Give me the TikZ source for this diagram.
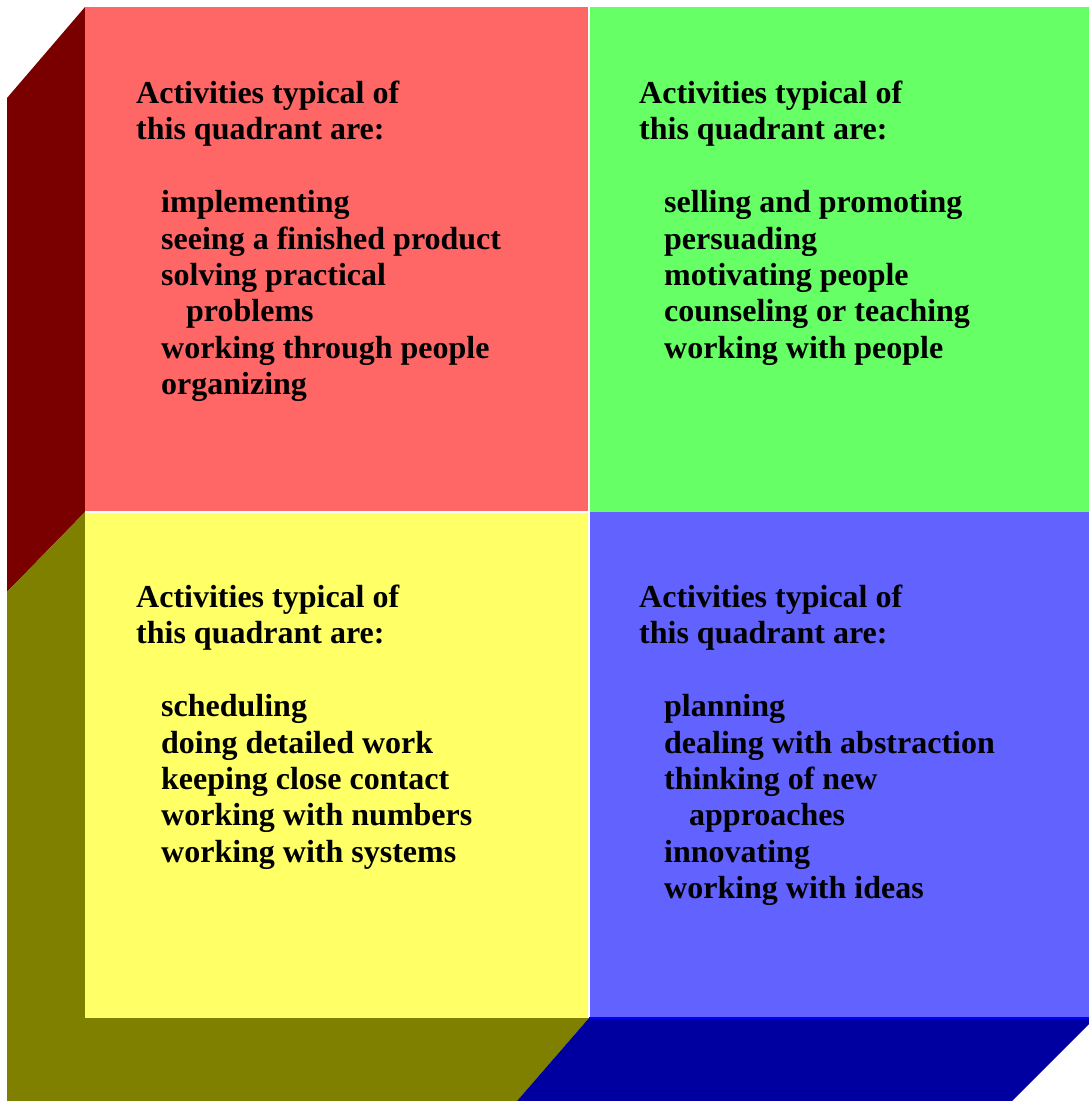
\documentclass[tikz,border=0pt]{standalone}
\usepackage{fontspec}
\setmainfont{Liberation Serif}
\definecolor{qred}{HTML}{FF6666}
\definecolor{qgreen}{HTML}{66FF66}
\definecolor{qyellow}{HTML}{FFFF66}
\definecolor{qblue}{HTML}{6262FF}
\definecolor{sred}{HTML}{7A0000}
\definecolor{solive}{HTML}{808000}
\definecolor{sblue}{HTML}{0000A0}
\tikzset{
  txt/.style={anchor=base west, inner sep=0pt, font=\fontsize{32}{36}\selectfont\bfseries, text=black},
}
\begin{document}
\begin{tikzpicture}[x=1pt,y=-1pt]
\useasboundingbox (0,0) rectangle (1089,1101);
% side faces
\fill[sred] (7,98) -- (85,7) -- (85,512) -- (7,592) -- cycle;
\fill[solive] (7,592) -- (85,512) -- (85,1018) -- (589,1018) -- (517,1101) -- (7,1101) -- cycle;
\fill[sblue] (589,1018) -- (1089,1018) -- (1089,1024) -- (1012,1101) -- (517,1101) -- cycle;
% front quadrants
\fill[qred] (85,7) rectangle (589,512);
\fill[qgreen] (589,7) rectangle (1089,512);
\fill[qyellow] (85,512) rectangle (589,1018);
\fill[qblue] (589,512) rectangle (1089,1018);
\draw[white, line width=1.2pt] (589,7) -- (589,1018);
\draw[white, line width=1.2pt] (85,512) -- (589,512);
\draw[blue, line width=1.2pt] (589,1018) -- (1089,1018);
% red quadrant
\node[txt] (r0) at (136,103.5) {Activities typical of};
\node[txt] (r1) at (136,139.9) {this quadrant are:};
\node[txt] (r3) at (161,212.7) {implementing};
\node[txt] (r4) at (161,249.1) {seeing a finished product};
\node[txt] (r5) at (161,285.5) {solving practical};
\node[txt] (r6) at (186,321.9) {problems};
\node[txt] (r7) at (161,358.3) {working through people};
\node[txt] (r8) at (161,394.7) {organizing};
% green quadrant
\node[txt] (g0) at (639,103.5) {Activities typical of};
\node[txt] (g1) at (639,139.9) {this quadrant are:};
\node[txt] (g3) at (664,212.7) {selling and promoting};
\node[txt] (g4) at (664,249.1) {persuading};
\node[txt] (g5) at (664,285.5) {motivating people};
\node[txt] (g6) at (664,321.9) {counseling or teaching};
\node[txt] (g7) at (664,358.3) {working with people};
% yellow quadrant
\node[txt] (y0) at (136,607.5) {Activities typical of};
\node[txt] (y1) at (136,643.9) {this quadrant are:};
\node[txt] (y3) at (161,716.7) {scheduling};
\node[txt] (y4) at (161,753.1) {doing detailed work};
\node[txt] (y5) at (161,789.5) {keeping close contact};
\node[txt] (y6) at (161,825.9) {working with numbers};
\node[txt] (y7) at (161,862.3) {working with systems};
% blue quadrant
\node[txt] (b0) at (639,607.5) {Activities typical of};
\node[txt] (b1) at (639,643.9) {this quadrant are:};
\node[txt] (b3) at (664,716.7) {planning};
\node[txt] (b4) at (664,753.1) {dealing with abstraction};
\node[txt] (b5) at (664,789.5) {thinking of new};
\node[txt] (b6) at (689,825.9) {approaches};
\node[txt] (b7) at (664,862.3) {innovating};
\node[txt] (b8) at (664,898.7) {working with ideas};
\end{tikzpicture}
\end{document}
